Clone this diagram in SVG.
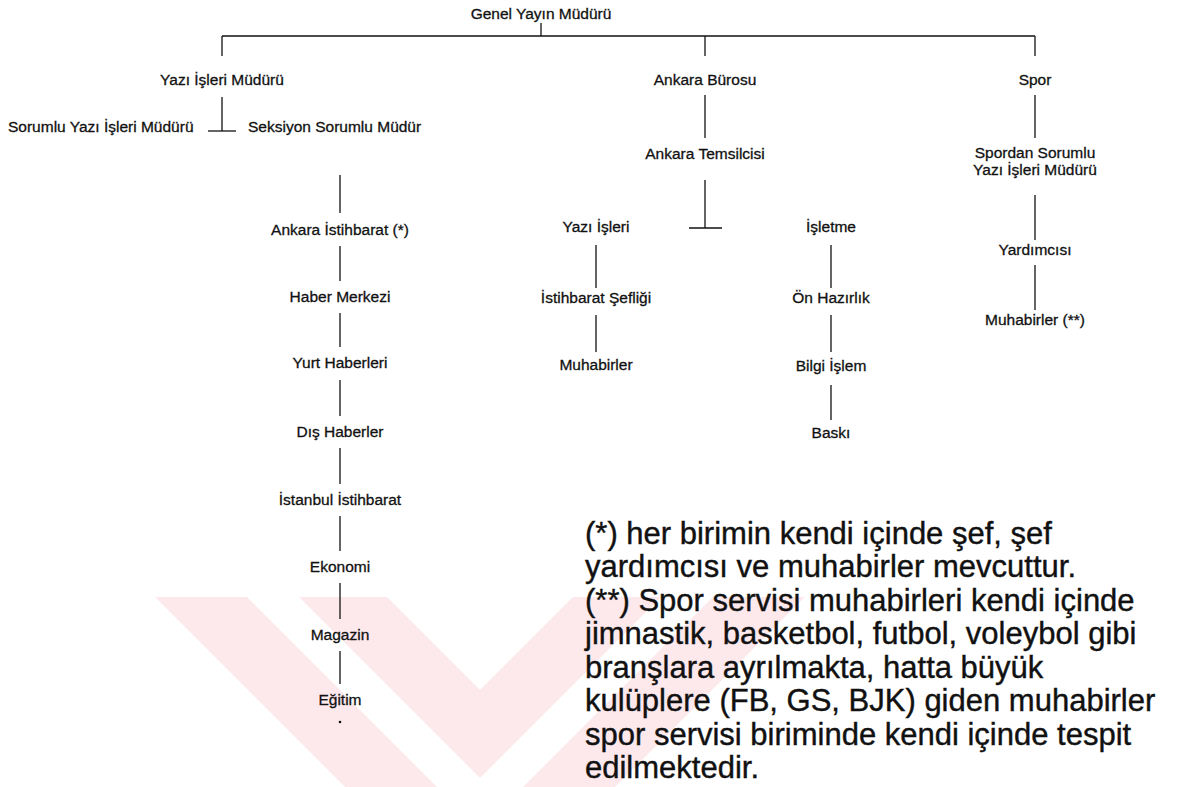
<svg xmlns="http://www.w3.org/2000/svg" width="1186" height="787" viewBox="0 0 1186 787">
<style>
.n{font-family:"Liberation Sans",Arial,sans-serif;font-size:15.5px;fill:#111;stroke:#111;stroke-width:0.3;text-anchor:middle}
.s{text-anchor:start}
#connectors line{stroke:#111;stroke-width:1.3}
.f{font-family:"Liberation Sans",Arial,sans-serif;font-size:31px;fill:#111;stroke:#111;stroke-width:0.4}
.w{fill:#fde8ec}
</style>
<rect width="1186" height="787" fill="#fff"/>
<g id="watermark" class="w">
<polygon points="155,597 247,597 437,787 345,787"/>
<polygon points="299,597 387,597 480,690 573,597 661,597 480,778"/>
<polygon points="713,597 805,597 615,787 523,787"/>
</g>
<g id="connectors">
<line x1="541" y1="23" x2="541" y2="36"/>
<line x1="222" y1="36" x2="1035" y2="36"/>
<line x1="222" y1="36" x2="222" y2="56"/>
<line x1="705" y1="36" x2="705" y2="56"/>
<line x1="1035" y1="36" x2="1035" y2="56"/>
<line x1="222" y1="97" x2="222" y2="131"/>
<line x1="208" y1="131" x2="236" y2="131"/>
<line x1="340" y1="175" x2="340" y2="213"/>
<line x1="340" y1="246" x2="340" y2="281"/>
<line x1="340" y1="313" x2="340" y2="347"/>
<line x1="340" y1="380" x2="340" y2="416"/>
<line x1="340" y1="448" x2="340" y2="484"/>
<line x1="340" y1="516" x2="340" y2="551"/>
<line x1="340" y1="583" x2="340" y2="619"/>
<line x1="340" y1="651" x2="340" y2="684"/>
<circle cx="340" cy="722" r="1.3" fill="#111"/>
<line x1="705" y1="95" x2="705" y2="138"/>
<line x1="1035" y1="95" x2="1035" y2="138"/>
<line x1="705" y1="180" x2="705" y2="228"/>
<line x1="689" y1="228" x2="722" y2="228"/>
<line x1="596" y1="245" x2="596" y2="288"/>
<line x1="596" y1="315" x2="596" y2="352"/>
<line x1="831" y1="245" x2="831" y2="288"/>
<line x1="831" y1="315" x2="831" y2="352"/>
<line x1="831" y1="385" x2="831" y2="420"/>
<line x1="1035" y1="195" x2="1035" y2="240"/>
<line x1="1035" y1="265" x2="1035" y2="310"/>
</g>
<g id="genel"><text class="n" x="541" y="19">Genel Yayın Müdürü</text></g>
<g id="yazi-isleri-muduru"><text class="n" x="222" y="85">Yazı İşleri Müdürü</text></g>
<g id="ankara-burosu"><text class="n" x="705" y="85">Ankara Bürosu</text></g>
<g id="spor"><text class="n" x="1035" y="85">Spor</text></g>
<g id="sorumlu"><text class="n s" x="8" y="132">Sorumlu Yazı İşleri Müdürü</text></g>
<g id="seksiyon"><text class="n s" x="248" y="132">Seksiyon Sorumlu Müdür</text></g>
<g id="ankara-temsilcisi"><text class="n" x="705" y="159">Ankara Temsilcisi</text></g>
<g id="spordan"><text class="n" x="1035" y="158">Spordan Sorumlu</text><text class="n" x="1035" y="175">Yazı İşleri Müdürü</text></g>
<g id="ankara-istihbarat"><text class="n" x="340" y="235">Ankara İstihbarat (*)</text></g>
<g id="yazi-isleri"><text class="n" x="596" y="232">Yazı İşleri</text></g>
<g id="isletme"><text class="n" x="831" y="232">İşletme</text></g>
<g id="yardimcisi"><text class="n" x="1035" y="255">Yardımcısı</text></g>
<g id="haber-merkezi"><text class="n" x="340" y="302">Haber Merkezi</text></g>
<g id="istihbarat-sefligi"><text class="n" x="596" y="303">İstihbarat Şefliği</text></g>
<g id="on-hazirlik"><text class="n" x="831" y="303">Ön Hazırlık</text></g>
<g id="muhabirler-spor"><text class="n" x="1035" y="325">Muhabirler (**)</text></g>
<g id="yurt-haberleri"><text class="n" x="340" y="368">Yurt Haberleri</text></g>
<g id="muhabirler"><text class="n" x="596" y="370">Muhabirler</text></g>
<g id="bilgi-islem"><text class="n" x="831" y="371">Bilgi İşlem</text></g>
<g id="dis-haberler"><text class="n" x="340" y="437">Dış Haberler</text></g>
<g id="baski"><text class="n" x="831" y="438">Baskı</text></g>
<g id="istanbul-istihbarat"><text class="n" x="340" y="505">İstanbul İstihbarat</text></g>
<g id="ekonomi"><text class="n" x="340" y="572">Ekonomi</text></g>
<g id="magazin"><text class="n" x="340" y="640">Magazin</text></g>
<g id="egitim"><text class="n" x="340" y="705">Eğitim</text></g>
<g id="footnote" class="f">
<text x="585" y="544">(*) her birimin kendi içinde şef, şef</text>
<text x="585" y="577">yardımcısı ve muhabirler mevcuttur.</text>
<text x="585" y="611">(**) Spor servisi muhabirleri kendi içinde</text>
<text x="585" y="644">jimnastik, basketbol, futbol, voleybol gibi</text>
<text x="585" y="678">branşlara ayrılmakta, hatta büyük</text>
<text x="585" y="711">kulüplere (FB, GS, BJK) giden muhabirler</text>
<text x="585" y="745">spor servisi biriminde kendi içinde tespit</text>
<text x="585" y="778">edilmektedir.</text>
</g>
</svg>
